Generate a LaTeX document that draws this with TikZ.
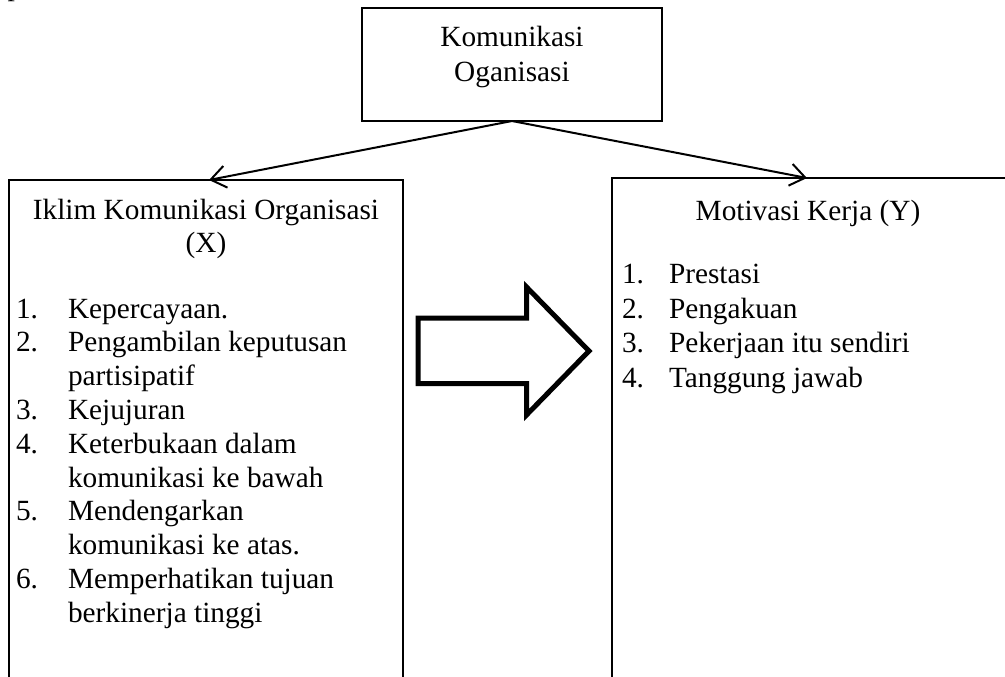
\documentclass[tikz,border=0pt]{standalone}
\usepackage{fontspec}
\setmainfont{Liberation Serif}
\usetikzlibrary{arrows.meta}
\begin{document}
\begin{tikzpicture}[x=1bp,y=-1bp,
  box/.style={draw, line width=1.3bp, inner sep=0pt, outer sep=0pt},
  txt/.style={inner sep=0pt, outer sep=0pt, font=\fontsize{29.3bp}{34bp}\selectfont},
  lbl/.style={txt, anchor=base west},
  ttl/.style={txt, anchor=base},
  conn/.style={line width=2bp, -{Straight Barb[length=15bp, width=22bp, line width=2bp]}},
  blockarrow/.style={draw, line width=5bp, miter limit=20}]
\useasboundingbox (0,0) rectangle (1005,677);
\clip (0,0) rectangle (1005,677);
% fragment of text above
\node[txt, anchor=base west] (frag) at (7.5,-4) {p};
% top box
\node[box, minimum width=300bp, minimum height=113bp] (top) at (512,64.5) {};
\node[ttl] (top1) at (512,47) {Komunikasi};
\node[ttl] (top2) at (512,82) {Oganisasi};
% left box (open at bottom of the picture)
\node[box, minimum width=394bp, minimum height=620bp] (xbox) at (206,490) {};
\node[ttl] (xt1) at (206,219) {Iklim Komunikasi Organisasi};
\node[ttl] (xt2) at (206,252) {(X)};
\foreach \n/\t/\y in {1./Kepercayaan./318, 2./Pengambilan keputusan/351.8, /partisipatif/385.6,
  3./Kejujuran/419.4, 4./Keterbukaan dalam/453.2, /komunikasi ke bawah/487,
  5./Mendengarkan/520.8, /komunikasi ke atas./554.6, 6./Memperhatikan tujuan/588.4,
  /berkinerja tinggi/622.2}{
  \node[lbl] (xn\y) at (16,\y) {\n};
  \node[lbl] (xi\y) at (68,\y) {\t};
}
% right box (open at bottom and right)
\node[box, minimum width=398bp, minimum height=622bp] (ybox) at (811,489) {};
\node[ttl] (yt1) at (808,220) {Motivasi Kerja (Y)};
\foreach \n/\t/\y in {1./Prestasi/283, 2./Pengakuan/318, 3./Pekerjaan itu sendiri/352.5, 4./Tanggung jawab/387}{
  \node[lbl] (yn\y) at (622,\y) {\n};
  \node[lbl] (yi\y) at (669,\y) {\t};
}
% connectors
\coordinate (xtip) at (209,180);
\coordinate (ytip) at (807,178);
\draw[conn] (top.south) -- (xtip);
\draw[conn] (top.south) -- (ytip);
% block arrow
\draw[blockarrow] (418,318) -- (526.5,318) -- (526.5,287) -- (589,351) -- (526.5,415) -- (526.5,383.5) -- (418,383.5) -- cycle;
\end{tikzpicture}
\end{document}
